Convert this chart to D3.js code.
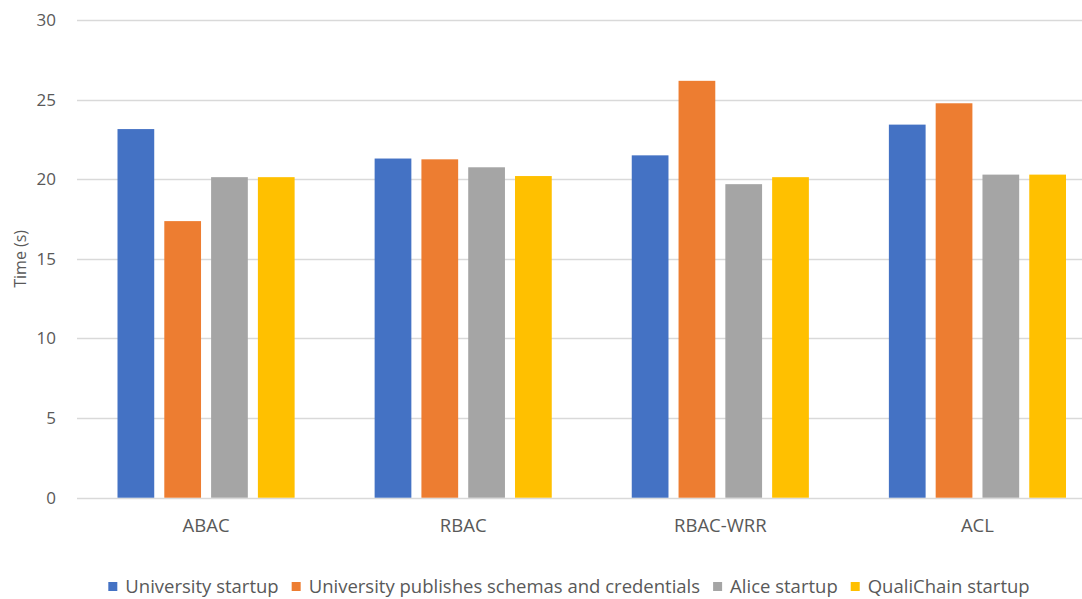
<!DOCTYPE html>
<html>
<head>
<meta charset="utf-8">
<script src="https://cdn.jsdelivr.net/npm/d3@7"></script>
<style>
  body { margin: 0; background: #fff; }
  text { font-family: "Open Sans", "Liberation Sans", sans-serif; fill: #595959; }
</style>
</head>
<body>
<div id="app"></div>
<script>
// data
var categories = ["ABAC", "RBAC", "RBAC-WRR", "ACL"];
var seriesNames = ["University startup", "University publishes schemas and credentials", "Alice startup", "QualiChain startup"];
var universityStartup = [23.15, 21.3, 21.5, 23.43];
var universityPublishes = [17.37, 21.25, 26.18, 24.77];
var aliceStartup = [20.13, 20.75, 19.69, 20.29];
var qualichainStartup = [20.13, 20.2, 20.13, 20.29];
var yTicks = [0, 5, 10, 15, 20, 25, 30];
var colors = ["#4472C4", "#ED7D31", "#A5A5A5", "#FFC000"];

var allSeries = [universityStartup, universityPublishes, aliceStartup, qualichainStartup];

var W = 1082, H = 599;
var svg = d3.select("#app").append("svg")
    .attr("width", W).attr("height", H);

// scales
var x0 = d3.scaleBand().domain(categories).range([77.5, 1106]).padding(0);
var x1 = d3.scaleBand().domain(d3.range(4)).range([40, x0.bandwidth() - 40]).paddingInner(0.215).paddingOuter(0);
var y = d3.scaleLinear().domain([0, 30]).range([497.7, 20]);

// gridlines
svg.append("g").selectAll("line")
  .data(yTicks)
  .enter().append("line")
    .attr("x1", 77).attr("x2", W)
    .attr("y1", function(d) { return Math.round(y(d)) + 0.5; })
    .attr("y2", function(d) { return Math.round(y(d)) + 0.5; })
    .attr("stroke", "#D9D9D9").attr("stroke-width", 1.3);

// y tick labels
svg.append("g").selectAll("text")
  .data(yTicks)
  .enter().append("text")
    .attr("x", 56)
    .attr("y", function(d) { return y(d); })
    .attr("dy", "0.35em")
    .attr("text-anchor", "end")
    .style("font-size", "17px")
    .text(function(d) { return d; });

// y title
svg.append("text")
  .attr("transform", "translate(20," + y(15) + ") rotate(-90)")
  .attr("text-anchor", "middle")
  .attr("dy", "0.35em")
  .style("font-size", "16px")
  .text("Time (s)");

// bars
var groups = svg.append("g").selectAll("g")
  .data(categories)
  .enter().append("g")
    .attr("transform", function(d) { return "translate(" + x0(d) + ",0)"; });

groups.selectAll("rect")
  .data(function(d, i) { return allSeries.map(function(s, k) { return { k: k, v: s[i] }; }); })
  .enter().append("rect")
    .attr("x", function(d) { return x1(d.k); })
    .attr("width", x1.bandwidth())
    .attr("y", function(d) { return y(d.v); })
    .attr("height", function(d) { return y(0) - y(d.v); })
    .attr("fill", function(d) { return colors[d.k]; });

// category labels
svg.append("g").selectAll("text")
  .data(categories)
  .enter().append("text")
    .attr("x", function(d) { return x0(d) + x0.bandwidth() / 2; })
    .attr("y", 526)
    .attr("dy", "0.35em")
    .attr("text-anchor", "middle")
    .style("font-size", "18.5px")
    .text(function(d) { return d; });

// legend
var legend = svg.append("g");
var items = legend.selectAll("g")
  .data(seriesNames)
  .enter().append("g");
items.append("rect")
  .attr("width", 9).attr("height", 9)
  .attr("y", 582)
  .attr("fill", function(d, i) { return colors[i]; });
items.append("text")
  .attr("x", 17)
  .attr("y", 586.5)
  .attr("dy", "0.35em")
  .style("font-size", "18.5px")
  .text(function(d) { return d; });

var pos = 0;
items.each(function() {
  var g = d3.select(this);
  g.attr("transform", "translate(" + pos + ",0)");
  pos += 17 + g.select("text").node().getComputedTextLength() + 13;
});
pos -= 13;
legend.attr("transform", "translate(" + (569 - pos / 2) + ",0)");
</script>
</body>
</html>
